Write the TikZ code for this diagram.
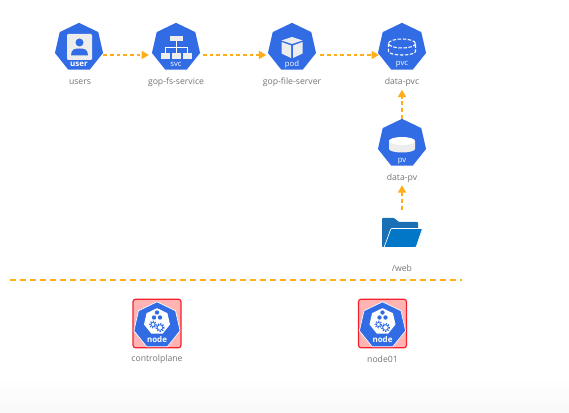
\documentclass[tikz,border=0pt]{standalone}
\usepackage{fontspec}
\setmainfont{Open Sans}
\usetikzlibrary{arrows.meta,shapes.geometric}
\definecolor{kubeblue}{HTML}{326CE5}
\definecolor{flowline}{HTML}{FFAE1A}
\definecolor{capgray}{HTML}{757575}
\definecolor{folderback}{HTML}{1A6FB5}
\definecolor{folderfront}{HTML}{0277C8}
\definecolor{hostedge}{HTML}{F5222D}
\definecolor{hostfill}{HTML}{FFB3B3}
\tikzset{
  kube/.style={regular polygon,regular polygon sides=7,minimum size=37pt,inner sep=0pt,fill=kubeblue},
  icontext/.style={text=white,font=\fontsize{5.8pt}{6pt}\selectfont,inner sep=0pt},
  nametext/.style={text=capgray,font=\fontsize{6.5pt}{7pt}\selectfont,inner sep=1pt},
  flow/.style={flowline,line width=1.2pt,dash pattern=on 2.8pt off 2.2pt,-{Triangle[length=5.5pt,width=6pt,fill=flowline]}},
  hostbox/.style={draw=hostedge,line width=0.9pt,fill=hostfill,rounded corners=2pt,minimum width=36pt,minimum height=36.5pt,inner sep=0pt},
}
\newcommand{\hosticon}[3]{% x, name, caption
  \node[hostbox] (#2box) at (#1,323.5) {};
  \node[kube,draw=white,line width=0.5pt,minimum size=35.5pt] (#2) at (#1,325.5) {};
  \node[regular polygon,regular polygon sides=7,fill=white,minimum size=20pt,inner sep=0pt] (#2core) at (#1,321.5) {};
  \foreach \dx/\dy in {0/-9,-3/-4,3/-4}
    \fill[kubeblue] (#1+\dx,321.5+\dy) circle (2.2);
  \draw[kubeblue,line width=0.6pt] (#1-4,324.5) circle (2);
  \draw[kubeblue,line width=1.2pt,dash pattern=on 0.7pt off 1pt] (#1-4,324.5) circle (3);
  \draw[kubeblue,line width=0.6pt] (#1+3,327.5) circle (2.8);
  \draw[kubeblue,line width=1.3pt,dash pattern=on 0.8pt off 1.1pt] (#1+3,327.5) circle (3.8);
  \node[icontext,font=\fontsize{6pt}{6pt}\selectfont\bfseries] (#2tag) at (#1,340) {node};
  \node[nametext] (#2name) at (#1,359) {#3};
}
\begin{document}
\begin{tikzpicture}[x=0.75pt,y=-0.75pt]
  \useasboundingbox (0,0) rectangle (569,413);
  \fill[white] (0,0) rectangle (569,413);
  \shade[top color=white,bottom color=black!2.5] (0,378) rectangle (569,413);
  % Service row
  \node[kube] (user) at (79,47.5) {};
  \node[kube] (svc) at (176,47.5) {};
  \node[kube] (pod) at (292,47.5) {};
  \node[kube] (pvc) at (402,47.5) {};
  \node[kube] (pv) at (402,143.5) {};
  \node[icontext,font=\fontsize{6pt}{6pt}\selectfont\bfseries] (usertag) at (79,64) {user};
  \node[icontext] (svctag) at (176,64.5) {svc};
  \node[icontext] (podtag) at (292,64.5) {pod};
  \node[icontext] (pvctag) at (402,64.5) {pvc};
  \node[icontext] (pvtag) at (402,161.5) {pv};
  \node[nametext] (username) at (80,82.5) {users};
  \node[nametext] (svcname) at (176,82.5) {gop-fs-service};
  \node[nametext] (podname) at (292,82.5) {gop-file-server};
  \node[nametext] (pvcname) at (402,82.5) {data-pvc};
  \node[nametext] (pvname) at (402,178) {data-pv};
  % User glyph
  \fill[black!7,rounded corners=0.8pt] (67,34) rectangle (92,60);
  \fill[kubeblue] (79.5,42.5) circle (4);
  \fill[kubeblue] (71,55.5) .. controls (71,49) and (75,48.5) .. (79.5,48.5) .. controls (84,48.5) and (88,49) .. (88,55.5) -- cycle;
  % Service glyph
  \draw[white,line width=0.6pt] (176,40) -- (176,53) (165,53) -- (165,47) -- (187,47) -- (187,53);
  \fill[black!7] (169.5,36) rectangle (182.5,41.5);
  \foreach \bx in {165,176,187}
    \fill[black!7] (\bx-4.5,53) rectangle (\bx+4.5,59);
  % Pod glyph
  \fill[black!7] (292,37) -- (302.5,40.5) -- (292,44) -- (281.5,40.5) -- cycle;
  \fill[black!7] (281.5,42) -- (291,45.5) -- (291,58) -- (281.5,53.5) -- cycle;
  \fill[black!7] (302.5,42) -- (293,45.5) -- (293,58) -- (302.5,53.5) -- cycle;
  % Dashed volume
  \draw[white,line width=0.8pt,dash pattern=on 2.6pt off 1.2pt] (402,43.5) ellipse (13.5 and 4.5);
  \draw[white,line width=0.8pt,dash pattern=on 2.6pt off 1.2pt] (388.5,43.5) -- (388.5,51.5) arc (180:0:13.5 and 3.5) -- (415.5,43.5);
  % Solid volume
  \fill[black!7] (389,141) -- (389,149) arc (180:0:13 and 3.5) -- (415,141) -- cycle;
  \fill[white] (402,141) ellipse (13 and 4);
  % Folder
  \node[minimum width=30pt,minimum height=22pt,inner sep=0pt] (web) at (402,232.5) {};
  \fill[folderback,rounded corners=0.6pt] (382,247) -- (382,218) -- (394,218) -- (399,222) -- (418,222) -- (418,230) -- (390,230) -- (385,247) -- cycle;
  \fill[folderfront,draw=white,line width=0.5pt,rounded corners=0.6pt] (391,228.5) -- (422.5,228.5) -- (416,247.5) -- (384,247.5) -- cycle;
  \node[nametext] (webname) at (402,268) {/web};
  % Connectors
  \coordinate (userout) at ([yshift=-5.6pt,xshift=1pt]user.east);
  \coordinate (svcin) at ([yshift=-5.6pt,xshift=-3pt]svc.west);
  \coordinate (svcout) at ([yshift=-5.6pt,xshift=3pt]svc.east);
  \coordinate (podin) at ([yshift=-5.6pt,xshift=-2pt]pod.west);
  \coordinate (podout) at ([yshift=-5.6pt,xshift=4pt]pod.east);
  \coordinate (pvcin) at ([yshift=-5.6pt]pvc.west);
  \draw[flow] (userout) -- (svcin);
  \draw[flow] (svcout) -- (podin);
  \draw[flow] (podout) -- (pvcin);
  \draw[flow] (pv.north) -- ([yshift=-1pt]pvcname.south);
  \draw[flow] ([yshift=6pt]web.north) -- ([yshift=-1pt]pvname.south);
  % Divider
  \coordinate (dividerl) at (10,280);
  \coordinate (dividerr) at (462,280);
  \draw[flowline,line width=1.1pt,dash pattern=on 4.6pt off 2.9pt] (dividerl) -- (dividerr);
  % Hosts
  \hosticon{157}{control}{controlplane}
  \hosticon{382.5}{worker}{node01}
\end{tikzpicture}
\end{document}
